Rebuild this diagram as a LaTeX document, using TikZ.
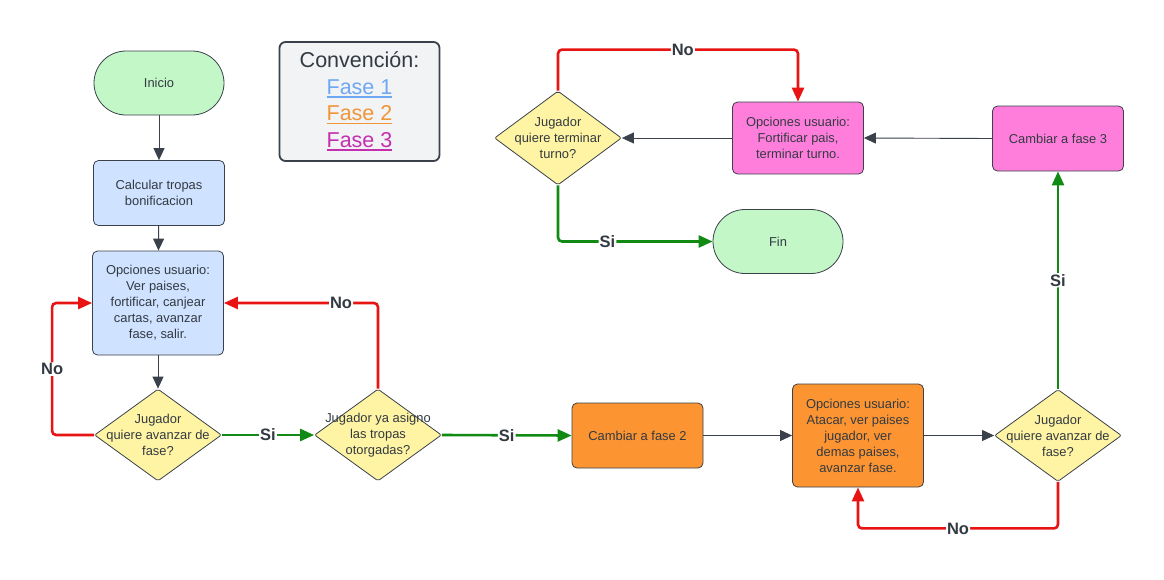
\documentclass[tikz,border=0pt]{standalone}
\usepackage{fontspec}
\setmainfont{Liberation Sans}
\usetikzlibrary{shapes.geometric,arrows.meta}

\definecolor{borde}{HTML}{3A414A}
\definecolor{texto}{HTML}{333A42}
\definecolor{verdeclaro}{HTML}{C3F7C8}
\definecolor{azulclaro}{HTML}{CFE2FF}
\definecolor{amarillo}{HTML}{FFF4A3}
\definecolor{naranja}{HTML}{FC9432}
\definecolor{magenta}{HTML}{FF7EDC}
\definecolor{rojo}{HTML}{E81313}
\definecolor{verde}{HTML}{118A14}
\definecolor{fondoconv}{HTML}{F2F3F5}
\definecolor{fase1}{HTML}{6FA8F2}
\definecolor{fase2}{HTML}{F0953A}
\definecolor{fase3}{HTML}{C42FB0}

\newlength\anchofase
\newcommand{\subrayar}[1]{\settowidth{\anchofase}{#1}\rlap{\rule[-3.5pt]{\anchofase}{1.6pt}}#1}

\begin{document}
\begin{tikzpicture}[x=1pt,y=-1pt,
  txt/.style={text=texto, font=\fontsize{12.9}{16}\selectfont},
  pill/.style={txt, draw=borde, line width=0.8pt, fill=verdeclaro, rounded corners=32pt, minimum width=130pt, minimum height=64pt},
  caja/.style={txt, draw=borde, line width=0.8pt, rounded corners=5pt, minimum width=131pt, minimum height=65pt, align=center},
  decision/.style={diamond, draw=borde, line width=0.8pt, fill=amarillo, rounded corners=2pt, minimum width=127pt, minimum height=92pt, inner sep=0pt},
  dtxt/.style={txt, align=center},
  gris/.style={draw=borde, line width=0.9pt, -{Triangle[length=12pt,width=11pt]}},
  si/.style={draw=verde, line width=2.6pt, rounded corners=4pt, -{Triangle[length=14pt,width=12pt]}},
  no/.style={draw=rojo, line width=2.6pt, rounded corners=4pt, -{Triangle[length=14pt,width=12pt]}},
  lab/.style={fill=white, inner sep=1pt, text=texto, font=\bfseries\fontsize{16.5}{16.5}\selectfont}]
\useasboundingbox (0,0) rectangle (1164,579);

%convencion
\node[draw=borde, line width=1.8pt, fill=fondoconv, rounded corners=6pt, minimum width=160pt, minimum height=119pt, align=center, text=texto, font=\fontsize{21.5}{26.5}\selectfont] (conv) at (359.5,101.5)
  {Convención:\\ \textcolor{fase1}{\subrayar{Fase 1}}\\ \textcolor{fase2}{\subrayar{Fase 2}}\\ \textcolor{fase3}{\subrayar{Fase 3}}};

%fase 1
\node[pill] (ini) at (159,83) {Inicio};
\node[caja, fill=azulclaro] (calc) at (159,193) {Calcular tropas\\bonificacion};
\node[caja, fill=azulclaro, minimum height=104pt] (op1) at (158,303) {Opciones usuario:\\Ver paises,\\fortificar, canjear\\cartas, avanzar\\fase, salir.};
\node[decision, label={[dtxt]center:{Jugador\\quiere avanzar de\\fase?}}] (d1) at (158,435) {};
\node[decision, label={[dtxt]center:{Jugador ya asigno\\las tropas\\otorgadas?}}] (d2) at (378,435) {};

%fase 2
\node[caja, fill=naranja] (cam2) at (637.5,435.5) {Cambiar a fase 2};
\node[caja, fill=naranja, minimum height=103pt] (op2) at (858,435.5) {Opciones usuario:\\Atacar, ver paises\\jugador, ver\\demas paises,\\avanzar fase.};
\node[decision, label={[dtxt]center:{Jugador\\quiere avanzar de\\fase?}}] (d3) at (1058,435.5) {};

%fase 3
\node[caja, fill=magenta] (cam3) at (1058,138.5) {Cambiar a fase 3};
\node[caja, fill=magenta, minimum height=72pt] (op3) at (798,138) {Opciones usuario:\\Fortificar pais,\\terminar turno.};
\node[decision, minimum height=94pt, label={[dtxt]center:{Jugador\\quiere terminar\\turno?}}] (d4) at (558,138) {};
\node[pill] (fin) at (778,241.5) {Fin};

%flechas fase 1
\draw[gris] (ini) -- (calc);
\draw[gris] (calc) -- (op1);
\draw[gris] (op1) -- (d1);
\draw[no] (d1.west) -| node[lab, pos=0.75] {No} ([xshift=-40pt]op1.west) -- (op1.west);
\draw[si] (d1.east) -- node[lab] {Si} (d2.west);
\draw[no] (d2.north) |- node[lab, pos=0.62] {No} (op1.east);
\draw[si] (d2.east) -- node[lab] {Si} (cam2.west);

%flechas fase 2
\draw[gris] (cam2.east) -- (op2.west);
\draw[gris] (op2.east) -- (d3.west);
\draw[no] (d3.south) |- node[lab, pos=0.75] {No} ([yshift=-41pt]op2.south) -- (op2.south);
\draw[si] (d3.north) -- node[lab] {Si} (cam3.south);

%flechas fase 3
\draw[gris] (cam3.west) -- (op3.east);
\draw[gris] (op3.west) -- (d4.east);
\draw[no] (d4.north) |- node[lab, pos=0.76] {No} ([yshift=52pt]op3.north) -- (op3.north);
\draw[si] (d4.south) |- node[lab, pos=0.66] {Si} (fin.west);
\end{tikzpicture}
\end{document}
